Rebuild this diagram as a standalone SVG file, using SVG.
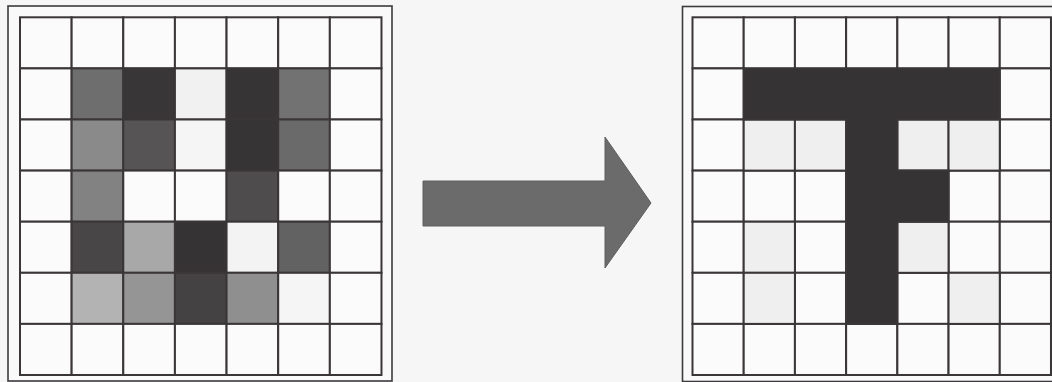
<svg xmlns="http://www.w3.org/2000/svg" width="1052" height="382" viewBox="0 0 1052 382">
  <style>
    .bg { fill: #f6f6f6; }
    .frame { fill: #f9f9f9; stroke: #3c3a3c; stroke-width: 1.6; }
    .cell { stroke: #3a3638; stroke-width: 2; }
    .w { fill: #fbfbfb; }
    .lg { fill: #efefef; }
    .dk { fill: #353334; }
    .arrow { fill: #6b6b6b; stroke: #5e5e5e; stroke-width: 1; }
  </style>
  <rect class="bg" x="0" y="0" width="1052" height="382"/>

  <g id="input-grid">
    <rect class="frame" x="8" y="6" width="384" height="375"/>
    <g transform="translate(20,17.3)">
      <!-- row 0 -->
      <rect class="cell w" x="0" y="0" width="51.64" height="51.1"/>
      <rect class="cell w" x="51.64" y="0" width="51.64" height="51.1"/>
      <rect class="cell w" x="103.28" y="0" width="51.64" height="51.1"/>
      <rect class="cell w" x="154.92" y="0" width="51.64" height="51.1"/>
      <rect class="cell w" x="206.56" y="0" width="51.64" height="51.1"/>
      <rect class="cell w" x="258.2" y="0" width="51.64" height="51.1"/>
      <rect class="cell w" x="309.84" y="0" width="51.64" height="51.1"/>
      <!-- row 1 -->
      <rect class="cell w" x="0" y="51.1" width="51.64" height="51.1"/>
      <rect class="cell" fill="#6e6e6e" x="51.64" y="51.1" width="51.64" height="51.1"/>
      <rect class="cell" fill="#383637" x="103.28" y="51.1" width="51.64" height="51.1"/>
      <rect class="cell" fill="#f1f1f1" x="154.92" y="51.1" width="51.64" height="51.1"/>
      <rect class="cell" fill="#363435" x="206.56" y="51.1" width="51.64" height="51.1"/>
      <rect class="cell" fill="#727272" x="258.2" y="51.1" width="51.64" height="51.1"/>
      <rect class="cell w" x="309.84" y="51.1" width="51.64" height="51.1"/>
      <!-- row 2 -->
      <rect class="cell w" x="0" y="102.2" width="51.64" height="51.1"/>
      <rect class="cell" fill="#8a8a8a" x="51.64" y="102.2" width="51.64" height="51.1"/>
      <rect class="cell" fill="#565455" x="103.28" y="102.2" width="51.64" height="51.1"/>
      <rect class="cell" fill="#f5f5f5" x="154.92" y="102.2" width="51.64" height="51.1"/>
      <rect class="cell" fill="#363435" x="206.56" y="102.2" width="51.64" height="51.1"/>
      <rect class="cell" fill="#6a6a6a" x="258.2" y="102.2" width="51.64" height="51.1"/>
      <rect class="cell w" x="309.84" y="102.2" width="51.64" height="51.1"/>
      <!-- row 3 -->
      <rect class="cell w" x="0" y="153.3" width="51.64" height="51.1"/>
      <rect class="cell" fill="#828282" x="51.64" y="153.3" width="51.64" height="51.1"/>
      <rect class="cell w" x="103.28" y="153.3" width="51.64" height="51.1"/>
      <rect class="cell w" x="154.92" y="153.3" width="51.64" height="51.1"/>
      <rect class="cell" fill="#4e4c4d" x="206.56" y="153.3" width="51.64" height="51.1"/>
      <rect class="cell w" x="258.2" y="153.3" width="51.64" height="51.1"/>
      <rect class="cell w" x="309.84" y="153.3" width="51.64" height="51.1"/>
      <!-- row 4 -->
      <rect class="cell w" x="0" y="204.4" width="51.64" height="51.1"/>
      <rect class="cell" fill="#484647" x="51.64" y="204.4" width="51.64" height="51.1"/>
      <rect class="cell" fill="#a8a8a8" x="103.28" y="204.4" width="51.64" height="51.1"/>
      <rect class="cell" fill="#353334" x="154.92" y="204.4" width="51.64" height="51.1"/>
      <rect class="cell" fill="#f3f3f3" x="206.56" y="204.4" width="51.64" height="51.1"/>
      <rect class="cell" fill="#626262" x="258.2" y="204.4" width="51.64" height="51.1"/>
      <rect class="cell w" x="309.84" y="204.4" width="51.64" height="51.1"/>
      <!-- row 5 -->
      <rect class="cell w" x="0" y="255.5" width="51.64" height="51.1"/>
      <rect class="cell" fill="#b3b3b3" x="51.64" y="255.5" width="51.64" height="51.1"/>
      <rect class="cell" fill="#959595" x="103.28" y="255.5" width="51.64" height="51.1"/>
      <rect class="cell" fill="#444243" x="154.92" y="255.5" width="51.64" height="51.1"/>
      <rect class="cell" fill="#8f8f8f" x="206.56" y="255.5" width="51.64" height="51.1"/>
      <rect class="cell" fill="#f5f5f5" x="258.2" y="255.5" width="51.64" height="51.1"/>
      <rect class="cell w" x="309.84" y="255.5" width="51.64" height="51.1"/>
      <!-- row 6 -->
      <rect class="cell w" x="0" y="306.6" width="51.64" height="51.1"/>
      <rect class="cell w" x="51.64" y="306.6" width="51.64" height="51.1"/>
      <rect class="cell w" x="103.28" y="306.6" width="51.64" height="51.1"/>
      <rect class="cell w" x="154.92" y="306.6" width="51.64" height="51.1"/>
      <rect class="cell w" x="206.56" y="306.6" width="51.64" height="51.1"/>
      <rect class="cell w" x="258.2" y="306.6" width="51.64" height="51.1"/>
      <rect class="cell w" x="309.84" y="306.6" width="51.64" height="51.1"/>
    </g>
  </g>

  <g id="connectors">
    <polygon class="arrow" points="423,181 605,181 605,137 651,203 605,268 605,226 423,226"/>
  </g>

  <g id="output-grid">
    <rect class="frame" x="682.5" y="6.5" width="380" height="375"/>
    <g transform="translate(692.5,17.3)">
      <g class="cell w">
        <rect x="0" y="0" width="51.21" height="51.1"/>
        <rect x="51.21" y="0" width="51.21" height="51.1"/>
        <rect x="102.42" y="0" width="51.21" height="51.1"/>
        <rect x="153.63" y="0" width="51.21" height="51.1"/>
        <rect x="204.84" y="0" width="51.21" height="51.1"/>
        <rect x="256.05" y="0" width="51.21" height="51.1"/>
        <rect x="307.26" y="0" width="51.21" height="51.1"/>
        <rect x="0" y="51.1" width="51.21" height="51.1"/>
        <rect x="307.26" y="51.1" width="51.21" height="51.1"/>
        <rect x="0" y="102.2" width="51.21" height="51.1"/>
        <rect x="307.26" y="102.2" width="51.21" height="51.1"/>
        <rect x="0" y="153.3" width="51.21" height="51.1"/>
        <rect x="51.21" y="153.3" width="51.21" height="51.1"/>
        <rect x="102.42" y="153.3" width="51.21" height="51.1"/>
        <rect x="256.05" y="153.3" width="51.21" height="51.1"/>
        <rect x="307.26" y="153.3" width="51.21" height="51.1"/>
        <rect x="0" y="204.4" width="51.21" height="51.1"/>
        <rect x="102.42" y="204.4" width="51.21" height="51.1"/>
        <rect x="256.05" y="204.4" width="51.21" height="51.1"/>
        <rect x="307.26" y="204.4" width="51.21" height="51.1"/>
        <rect x="0" y="255.5" width="51.21" height="51.1"/>
        <rect x="102.42" y="255.5" width="51.21" height="51.1"/>
        <rect x="204.84" y="255.5" width="51.21" height="51.1"/>
        <rect x="307.26" y="255.5" width="51.21" height="51.1"/>
        <rect x="0" y="306.6" width="51.21" height="51.1"/>
        <rect x="51.21" y="306.6" width="51.21" height="51.1"/>
        <rect x="102.42" y="306.6" width="51.21" height="51.1"/>
        <rect x="153.63" y="306.6" width="51.21" height="51.1"/>
        <rect x="204.84" y="306.6" width="51.21" height="51.1"/>
        <rect x="256.05" y="306.6" width="51.21" height="51.1"/>
        <rect x="307.26" y="306.6" width="51.21" height="51.1"/>
      </g>
      <g class="cell lg">
        <rect x="51.21" y="102.2" width="51.21" height="51.1"/>
        <rect x="102.42" y="102.2" width="51.21" height="51.1"/>
        <rect x="204.84" y="102.2" width="51.21" height="51.1"/>
        <rect x="256.05" y="102.2" width="51.21" height="51.1"/>
        <rect x="51.21" y="204.4" width="51.21" height="51.1"/>
        <rect x="204.84" y="204.4" width="51.21" height="51.1"/>
        <rect x="51.21" y="255.5" width="51.21" height="51.1"/>
        <rect x="256.05" y="255.5" width="51.21" height="51.1"/>
      </g>
      <path class="cell dk" d="M51.21,51.1 H307.26 V102.2 H204.84 V153.3 H256.05 V204.4 H204.84 V306.6 H153.63 V102.2 H51.21 Z"/>
    </g>
  </g>
</svg>
